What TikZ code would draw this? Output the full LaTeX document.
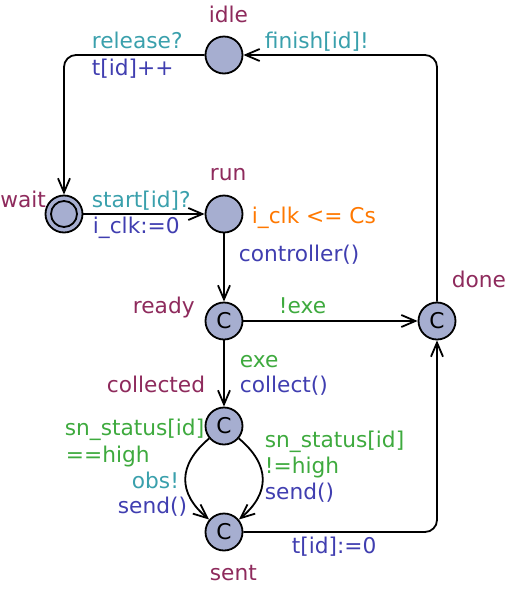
\documentclass[tikz,border=0pt]{standalone}
\usepackage{fontspec}
\setmainfont{DejaVu Sans}
\usetikzlibrary{automata,arrows.meta}

\definecolor{locfill}{RGB}{166,174,208}
\definecolor{cname}{RGB}{142,42,92}
\definecolor{csync}{RGB}{58,160,172}
\definecolor{cassign}{RGB}{64,62,176}
\definecolor{cguard}{RGB}{62,170,62}
\definecolor{cinv}{RGB}{255,120,0}

\begin{document}
\begin{tikzpicture}[->, >={Straight Barb[length=14pt,width=12pt]}, x=1pt, y=1pt, line width=1.8pt, font=\fontsize{21.7}{26}\selectfont]
        \tikzstyle{every state}=[fill=locfill,draw=black,line width=1.8pt,text=black,minimum size=37pt,inner sep=0pt]
        \tikzstyle{initloc}=[path picture={\draw[-,line width=1.8pt] (path picture bounding box.center) circle (13pt);}]
        \tikzstyle{hvcorner}=[rounded corners=12pt,to path={-| (\tikztotarget)}]
        \tikzstyle{vhcorner}=[rounded corners=12pt,to path={|- (\tikztotarget)}]
        \tikzstyle{lbl}=[anchor=base west,inner sep=0pt]
        \tikzstyle{namelbl}=[lbl,text=cname]
        \tikzstyle{synclbl}=[lbl,text=csync]
        \tikzstyle{assignlbl}=[lbl,text=cassign]
        \tikzstyle{guardlbl}=[lbl,text=cguard]
        \tikzstyle{invlbl}=[lbl,text=cinv]

        \useasboundingbox (0,0) rectangle (509,-590);

        \node[state,initloc] (wait) at (64,-214)                         {};
        \node[state]    (run)[right of=wait,node distance=160pt]         {};
        \node[state]    (idle)[above of=run,node distance=159pt]         {};
        \node[state]    (ready)[below of=run,node distance=107pt]        {C};
        \node[state]    (done)[right of=ready,node distance=213pt]       {C};
        \node[state]    (collected)[below of=ready,node distance=105pt]  {C};
        \node[state]    (sent)[below of=collected,node distance=106pt]   {C};

        % location names
        \node[namelbl]  (nidle)      at (208,-22)   {idle};
        \node[namelbl]  (nwait)      at (-0.5,-207) {wait};
        \node[namelbl]  (nrun)       at (209,-180)  {run};
        \node[namelbl]  (nready)     at (132,-313)  {ready};
        \node[namelbl]  (ndone)      at (451,-287)  {done};
        \node[namelbl]  (ncollected) at (106,-392)  {collected};
        \node[namelbl]  (nsent)      at (209,-580)  {sent};
        \node[invlbl]   (invrun)     at (251,-223)  {i\_clk <= Cs};

        % edge labels
        \node[synclbl]   (lrelease) at (91,-48)   {release?};
        \node[assignlbl] (ltinc)    at (91,-75)   {t[id]++};
        \node[synclbl]   (lfinish)  at (264,-48)  {finish[id]!};
        \node[synclbl]   (lstart)   at (91,-207)  {start[id]?};
        \node[assignlbl] (lclk)     at (92,-233)  {i\_clk:=0};
        \node[assignlbl] (lctrl)    at (238,-261) {controller()};
        \node[guardlbl]  (lnexe)    at (278,-313) {!exe};
        \node[guardlbl]  (lexe)     at (239,-367) {exe};
        \node[assignlbl] (lcollect) at (239,-392) {collect()};
        \node[guardlbl]  (lhigh)    at (64,-435)  {sn\_status[id]};
        \node[guardlbl]  (lhighb)   at (65,-462)  {==high};
        \node[synclbl]   (lobs)     at (131,-488) {obs!};
        \node[assignlbl] (lsendl)   at (117,-513) {send()};
        \node[guardlbl]  (lnhigh)   at (264,-447) {sn\_status[id]};
        \node[guardlbl]  (lnhighb)  at (264,-473) {!=high};
        \node[assignlbl] (lsendr)   at (264,-499) {send()};
        \node[assignlbl] (ltzero)   at (291,-553) {t[id]:=0};

        \path
            (idle)      edge[hvcorner]                      (wait)
            (wait)      edge                                (run)
            (run)       edge                                (ready)
            (ready)     edge                                (done)
            (ready)     edge                                (collected)
            (collected) edge[bend right=50,looseness=1.3]   (sent)
            (collected) edge[bend left=50,looseness=1.3]    (sent)
            (sent)      edge[hvcorner]                      (done)
            (done)      edge[vhcorner]                      (idle)
        ;
\end{tikzpicture}
\end{document}
